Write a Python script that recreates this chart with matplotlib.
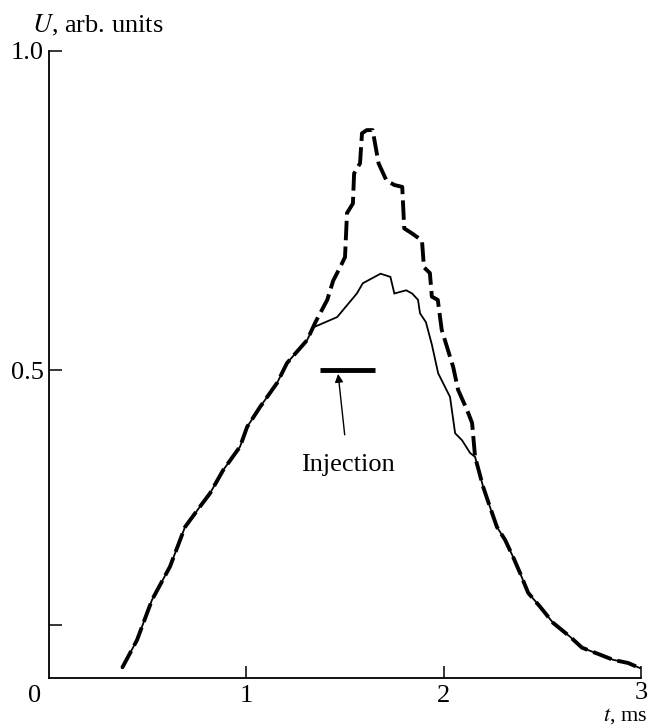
import numpy as np
import matplotlib.pyplot as plt

plt.rcParams['font.family'] = ['Liberation Serif', 'DejaVu Serif']
plt.rcParams['mathtext.fontset'] = 'stix'

# common rising edge of both signals
t_rise = [0.37, 0.446, 0.522, 0.613, 0.689, 0.765, 0.816, 0.882, 0.968, 1.004,
          1.069, 1.156, 1.206, 1.308]
u_rise = [0.033, 0.077, 0.14, 0.192, 0.254, 0.286, 0.307, 0.343, 0.38, 0.411,
          0.442, 0.48, 0.511, 0.547]

# common falling edge of both signals
t_fall = [2.159, 2.2, 2.235, 2.27, 2.311, 2.352, 2.387, 2.428, 2.489, 2.554,
          2.641, 2.701, 2.793, 2.859, 2.935, 2.995]
u_fall = [0.364, 0.317, 0.285, 0.254, 0.234, 0.207, 0.182, 0.151, 0.129, 0.104,
          0.082, 0.065, 0.054, 0.046, 0.041, 0.033]

# top part, signal without injection (solid)
t_top_solid = [1.34, 1.46, 1.56, 1.59, 1.68, 1.73, 1.75, 1.81, 1.84, 1.87, 1.88,
               1.91, 1.94, 1.972, 2.032, 2.058, 2.093, 2.134]
u_top_solid = [0.567, 0.583, 0.62, 0.636, 0.651, 0.646, 0.62, 0.625, 0.62, 0.61,
               0.589, 0.575, 0.54, 0.495, 0.458, 0.401, 0.39, 0.37]

# top part, signal with injection (dashed)
t_top_dash = [1.35, 1.41, 1.44, 1.475, 1.5, 1.51, 1.54, 1.546, 1.576, 1.586, 1.61,
              1.64, 1.67, 1.71, 1.75, 1.79, 1.80, 1.84, 1.89, 1.90, 1.93, 1.94,
              1.97, 1.99, 2.022, 2.048, 2.073, 2.119, 2.144]
u_top_dash = [0.575, 0.61, 0.64, 0.661, 0.677, 0.746, 0.761, 0.808, 0.824, 0.871,
              0.876, 0.876, 0.824, 0.797, 0.79, 0.787, 0.722, 0.714, 0.703, 0.661,
              0.652, 0.615, 0.61, 0.563, 0.531, 0.505, 0.469, 0.437, 0.417]

# injection interval
inj_t = [1.374, 1.652]
inj_u = 0.5

t_solid = np.array(t_rise + t_top_solid + t_fall)
u_solid = np.array(u_rise + u_top_solid + u_fall)
t_dash = np.array(t_rise + t_top_dash + t_fall)
u_dash = np.array(u_rise + u_top_dash + u_fall)

fig = plt.figure(figsize=(6.5, 7.26), dpi=100)
ax = fig.add_axes([0.0754, 0.0661, 0.9108, 0.8637])

ax.plot(t_solid, u_solid, color='black', lw=1.3, solid_joinstyle='miter')
ax.plot(t_dash, u_dash, color='black', lw=2.8, dashes=(5, 1.6),
        solid_capstyle='butt')

# injection bar and its label
ax.plot(inj_t, [inj_u, inj_u], color='black', lw=3.5, solid_capstyle='butt')
ax.annotate('Injection', xy=(1.465, inj_u - 0.006), xytext=(1.515, 0.351),
            ha='center', va='center', fontsize=19,
            arrowprops=dict(arrowstyle='-|>', color='black', lw=1.0,
                            mutation_scale=12, shrinkA=12, shrinkB=0))

ax.set_xlim(0, 3)
ax.set_ylim(0.0175, 1.0)
ax.set_xticks([1, 2, 3])
ax.set_xticklabels(['1', '2', '3'])
ax.set_yticks([0.1, 0.5, 1.0])
ax.set_yticklabels(['', '0.5', '1.0'])
ax.tick_params(direction='in', length=9, width=1.1, labelsize=19, pad=4)
ax.tick_params(axis='x', pad=5)
# lift the last x label a little so the unit label fits beneath it
ax.xaxis.get_major_ticks()[2].label1.set_y(0.004)

for side in ['top', 'right']:
    ax.spines[side].set_visible(False)
for side in ['left', 'bottom']:
    ax.spines[side].set_linewidth(1.3)

fig.text(35 / 650, 1 - 696 / 726, '0', ha='center', va='center', fontsize=19)
fig.text(32 / 650, 1 - 25 / 726, r'$U$, arb. units', ha='left', va='center',
         fontsize=19)
fig.text(647 / 650, 0.0, r'$t$, ms', ha='right', va='bottom', fontsize=16)

fig.savefig('out.png', dpi=100)
